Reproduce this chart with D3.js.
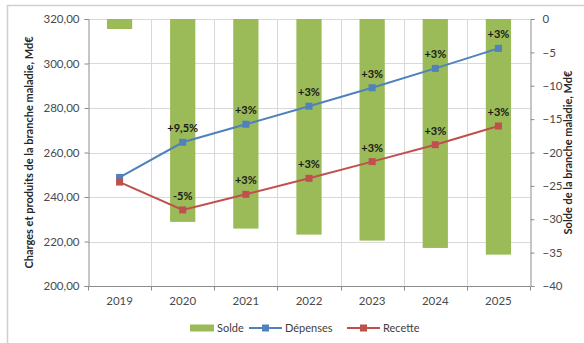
<!DOCTYPE html>
<html>
<head>
<meta charset="utf-8">
<script src="https://cdn.jsdelivr.net/npm/d3@7"></script>
<style>
  body { margin: 0; background: #fff; }
  text { font-family: Lato, "Open Sans", sans-serif; }
</style>
</head>
<body>
<div id="chart"></div>
<script>
// Data
const years = ["2019", "2020", "2021", "2022", "2023", "2024", "2025"];
const solde = [-1.5, -30.4, -31.4, -32.3, -33.2, -34.3, -35.3];
const depenses = [248.8, 264.6, 272.7, 280.8, 289.1, 297.8, 306.8];
const recette = [246.7, 234.2, 241.2, 248.4, 255.9, 263.5, 271.9];
const depLabels = ["", "+9,5%", "+3%", "+3%", "+3%", "+3%", "+3%"];
const recLabels = ["", "-5%", "+3%", "+3%", "+3%", "+3%", "+3%"];
const leftTicks = [200, 220, 240, 260, 280, 300, 320];
const rightTicks = [0, -5, -10, -15, -20, -25, -30, -35, -40];

const width = 584, height = 343;
const plotL = 88, plotR = 530, plotT = 19, plotB = 286;

const svg = d3.select("#chart").append("svg")
    .attr("width", width)
    .attr("height", height);

// outer frame (clipped on right / bottom in the original)
svg.append("rect")
    .attr("x", 7.5).attr("y", 5.5)
    .attr("width", 620).attr("height", 400)
    .attr("fill", "none")
    .attr("stroke", "#d0d0d0")
    .attr("stroke-width", 1.5);

const x = d3.scaleBand().domain(years).range([plotL, plotR]).padding(0);
const yL = d3.scaleLinear().domain([200, 320]).range([plotB, plotT]);
const yR = d3.scaleLinear().domain([-40, 0]).range([plotB, plotT]);

const fmt = d => d3.format(".2f")(d).replace(".", ",");

// grid
const grid = svg.append("g");
grid.selectAll(".hg").data(leftTicks.filter(d => d > 200))
    .join("line")
    .attr("x1", plotL).attr("x2", plotR)
    .attr("y1", d => Math.round(yL(d)) + 0.5).attr("y2", d => Math.round(yL(d)) + 0.5)
    .attr("stroke", "#d9d9d9");
grid.selectAll(".vg").data(years.slice(1))
    .join("line")
    .attr("x1", d => Math.round(x(d)) + 0.5).attr("x2", d => Math.round(x(d)) + 0.5)
    .attr("y1", plotT).attr("y2", plotB)
    .attr("stroke", "#d9d9d9");

// bars (Solde, right axis)
const bw = x.bandwidth() * 0.4;
svg.append("g").selectAll("rect")
    .data(years)
    .join("rect")
    .attr("x", d => x(d) + x.bandwidth() / 2 - bw / 2)
    .attr("y", yR(0))
    .attr("width", bw)
    .attr("height", (d, i) => yR(solde[i]) - yR(0))
    .attr("fill", "#9bbb59");

// axes
const axisColor = "#8c8c8c";
const gL = svg.append("g").attr("transform", `translate(${plotL + 0.5},0)`)
    .call(d3.axisLeft(yL).tickValues(leftTicks).tickFormat(fmt).tickSize(4).tickPadding(5));
const gR = svg.append("g").attr("transform", `translate(${plotR + 0.5},0)`)
    .call(d3.axisRight(yR).tickValues(rightTicks).tickSize(4).tickPadding(8));
const gB = svg.append("g").attr("transform", `translate(0,${plotB + 0.5})`)
    .call(d3.axisBottom(x).tickSize(0).tickPadding(10));
gB.append("g").selectAll("line")
    .data(years.concat(["end"]))
    .join("line")
    .attr("x1", (d, i) => Math.round(plotL + i * x.bandwidth()) + 0.5)
    .attr("x2", (d, i) => Math.round(plotL + i * x.bandwidth()) + 0.5)
    .attr("y1", 0).attr("y2", 4)
    .attr("stroke", axisColor);

[gL, gR, gB].forEach(g => {
    g.select(".domain").attr("stroke", axisColor);
    g.selectAll(".tick line").attr("stroke", axisColor);
    g.selectAll(".tick text")
        .attr("fill", "#4a4a4a")
        .style("font-size", "11.5px");
});
gB.select(".domain").attr("d", `M${plotL},0H${plotR}`);

// lines
const series = [
    { vals: depenses, color: "#4f81bd", labels: depLabels },
    { vals: recette, color: "#c0504d", labels: recLabels }
];
const line = d3.line()
    .x((d, i) => x(years[i]) + x.bandwidth() / 2)
    .y(d => yL(d));

series.forEach(s => {
    svg.append("path")
        .datum(s.vals)
        .attr("d", line)
        .attr("fill", "none")
        .attr("stroke", s.color)
        .attr("stroke-width", 2);
    svg.append("g").selectAll("rect")
        .data(s.vals)
        .join("rect")
        .attr("x", (d, i) => x(years[i]) + x.bandwidth() / 2 - 3.5)
        .attr("y", d => yL(d) - 3.5)
        .attr("width", 7).attr("height", 7)
        .attr("fill", s.color);
    svg.append("g").selectAll("text")
        .data(s.vals)
        .join("text")
        .attr("x", (d, i) => x(years[i]) + x.bandwidth() / 2)
        .attr("y", d => yL(d) - 10)
        .attr("text-anchor", "middle")
        .style("font-size", "11px")
        .style("font-weight", "bold")
        .attr("fill", "#1a1a1a")
        .text((d, i) => s.labels[i]);
});

// axis titles
svg.append("text")
    .attr("transform", `translate(33,${(plotT + plotB) / 2}) rotate(-90)`)
    .attr("text-anchor", "middle")
    .style("font-size", "11px")
    .style("font-weight", "bold")
    .attr("fill", "#262626")
    .text("Charges et produits de la branche maladie, Md€");
svg.append("text")
    .attr("transform", `translate(572,${(plotT + plotB) / 2}) rotate(-90)`)
    .attr("text-anchor", "middle")
    .style("font-size", "11px")
    .style("font-weight", "bold")
    .attr("fill", "#262626")
    .text("Solde de la branche maladie, Md€");

// legend
const legY = 328;
const legend = svg.append("g");
legend.append("rect")
    .attr("x", 190).attr("y", legY - 3.5)
    .attr("width", 24).attr("height", 7)
    .attr("fill", "#9bbb59");
legend.append("text").attr("x", 217).attr("y", legY + 4)
    .style("font-size", "11px").attr("fill", "#404040").text("Solde");
[[249, "#4f81bd", "Dépenses"], [347, "#c0504d", "Recette"]].forEach(([lx, c, t]) => {
    legend.append("line")
        .attr("x1", lx).attr("x2", lx + 33)
        .attr("y1", legY).attr("y2", legY)
        .attr("stroke", c).attr("stroke-width", 2);
    legend.append("rect")
        .attr("x", lx + 13).attr("y", legY - 3.5)
        .attr("width", 7).attr("height", 7)
        .attr("fill", c);
    legend.append("text").attr("x", lx + 36).attr("y", legY + 4)
        .style("font-size", "11px").attr("fill", "#404040").text(t);
});
</script>
</body>
</html>
